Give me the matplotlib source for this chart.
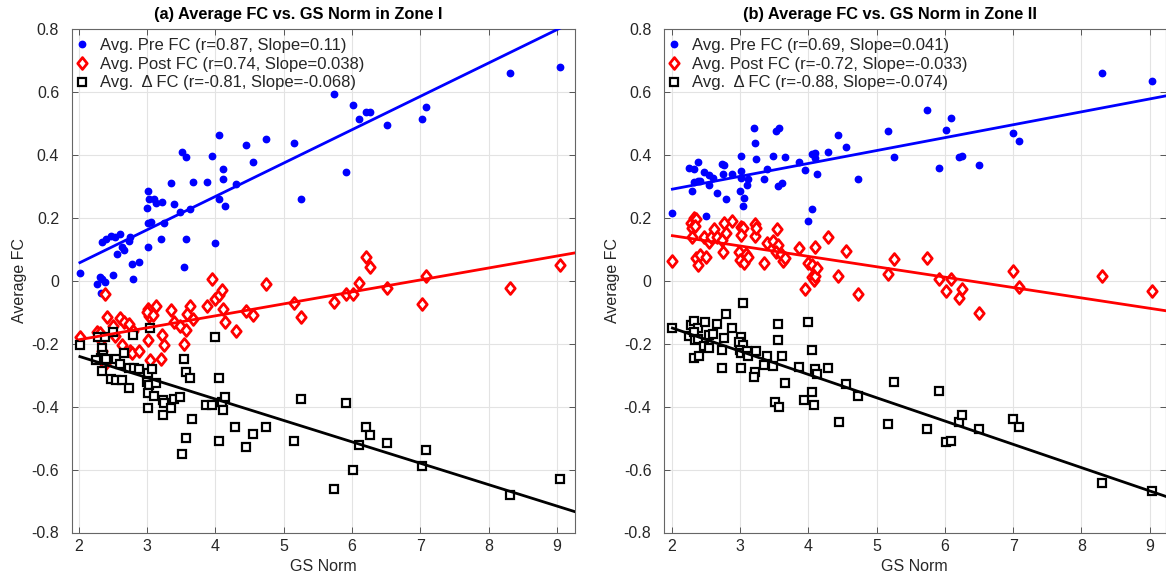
import matplotlib
matplotlib.use("Agg")
import matplotlib.pyplot as plt
from matplotlib.path import Path
import numpy as np

plt.rcParams['font.family'] = ['Liberation Sans', 'DejaVu Sans']
plt.rcParams['axes.unicode_minus'] = False

# ---- Zone I ----
a_pre_x = [2.02, 2.27, 2.31, 2.34, 2.35, 2.38, 2.33, 2.40, 2.47, 2.53, 2.60, 2.63, 2.67, 2.56,
           2.50, 2.74, 2.76, 2.78, 2.80, 2.89, 3.01, 3.03, 3.00, 3.10, 3.13, 3.02, 3.06, 3.02,
           3.22, 3.25, 3.21, 3.35, 3.40, 3.49, 3.57, 3.55, 3.63, 3.67, 3.88, 3.99, 4.06, 4.11,
           4.11, 4.14, 4.30, 4.55, 3.52, 3.57, 3.96, 4.06, 4.45, 4.74, 5.16, 5.26, 5.74, 5.92,
           6.02, 6.10, 6.21, 6.27, 6.52, 7.02, 7.09, 8.31, 9.04]
a_pre_y = [0.025, -0.011, 0.011, 0.004, 0.124, -0.004, -0.038, 0.131, 0.142, 0.137, 0.148, 0.106,
           0.097, 0.084, 0.018, 0.126, 0.137, 0.052, 0.005, 0.060, 0.286, 0.258, 0.232, 0.258,
           0.245, 0.182, 0.187, 0.108, 0.249, 0.182, 0.133, 0.309, 0.242, 0.219, 0.132, 0.042,
           0.227, 0.313, 0.312, 0.119, 0.259, 0.322, 0.354, 0.238, 0.306, 0.378, 0.409, 0.392,
           0.397, 0.463, 0.431, 0.450, 0.436, 0.259, 0.593, 0.345, 0.559, 0.513, 0.537, 0.534,
           0.493, 0.512, 0.552, 0.658, 0.679]

a_post_x = [2.02, 2.27, 2.31, 2.34, 2.35, 2.38, 2.33, 2.38, 2.41, 2.50, 2.53, 2.60, 2.63, 2.67,
            2.74, 2.75, 2.78, 2.80, 2.89, 3.01, 3.03, 3.00, 3.09, 3.13, 3.01, 3.05, 3.22, 3.25,
            3.21, 3.35, 3.40, 3.49, 3.57, 3.55, 3.63, 3.67, 3.58, 3.88, 3.96, 3.99, 4.06, 4.10,
            4.11, 4.14, 4.31, 4.45, 4.55, 4.74, 5.16, 5.26, 5.74, 5.92, 6.02, 6.10, 6.21, 6.26,
            6.52, 7.02, 7.09, 8.31, 9.04]
a_post_y = [-0.178, -0.164, -0.167, -0.225, -0.245, -0.265, -0.190, -0.044, -0.116, -0.144,
            -0.175, -0.119, -0.204, -0.130, -0.139, -0.222, -0.231, -0.160, -0.222, -0.089,
            -0.114, -0.100, -0.109, -0.081, -0.190, -0.251, -0.172, -0.204, -0.249, -0.093,
            -0.133, -0.143, -0.157, -0.202, -0.080, -0.123, -0.107, -0.080, 0.006, -0.059,
            -0.045, -0.030, -0.091, -0.131, -0.159, -0.095, -0.109, -0.012, -0.072, -0.115,
            -0.067, -0.044, -0.044, -0.008, 0.074, 0.043, -0.023, -0.074, 0.016, -0.023, 0.051]

a_delta_x = [2.02, 2.29, 2.39, 2.50, 2.80, 3.05, 3.99, 2.34, 2.36, 2.33, 2.26, 2.40, 2.35, 2.55,
             2.60, 2.67, 2.47, 2.55, 2.63, 2.74, 2.74, 2.81, 2.89, 3.01, 3.07, 3.00, 3.03, 3.14,
             3.01, 3.11, 3.01, 3.23, 3.25, 3.36, 3.39, 3.49, 3.55, 3.57, 3.63, 3.87, 3.96, 4.06,
             4.10, 4.14, 4.11, 3.66, 3.23, 3.57, 3.52, 4.06, 4.29, 4.45, 4.55, 4.74, 5.16, 5.26,
             5.74, 5.92, 6.02, 6.10, 6.21, 6.26, 6.52, 7.02, 7.09, 8.31, 9.04]
a_delta_y = [-0.204, -0.178, -0.178, -0.164, -0.172, -0.151, -0.178, -0.215, -0.235, -0.245,
             -0.252, -0.250, -0.286, -0.250, -0.265, -0.229, -0.312, -0.315, -0.315, -0.342,
             -0.278, -0.278, -0.281, -0.294, -0.281, -0.321, -0.331, -0.324, -0.358, -0.368,
             -0.404, -0.379, -0.390, -0.404, -0.377, -0.370, -0.249, -0.289, -0.310, -0.396,
             -0.394, -0.310, -0.387, -0.370, -0.410, -0.440, -0.426, -0.500, -0.552, -0.508,
             -0.466, -0.529, -0.487, -0.464, -0.510, -0.376, -0.661, -0.389, -0.601, -0.523,
             -0.464, -0.491, -0.516, -0.588, -0.537, -0.681, -0.630]

# ---- Zone II ----
b_pre_x = [2.01, 2.29, 2.26, 2.33, 2.38, 2.33, 2.38, 2.41, 2.48, 2.54, 2.55, 2.61, 2.50, 2.66,
           2.74, 2.77, 2.75, 2.79, 2.88, 3.01, 3.01, 3.02, 3.00, 3.06, 3.04, 3.10, 3.12, 3.21,
           3.22, 3.24, 3.35, 3.39, 3.48, 3.52, 3.57, 3.55, 3.62, 3.66, 3.87, 3.95, 3.99, 4.06,
           4.06, 4.10, 4.10, 4.13, 4.29, 4.44, 4.55, 4.73, 5.16, 5.26, 5.74, 5.91, 6.02, 6.09,
           6.20, 6.25, 6.50, 7.00, 7.08, 8.30, 9.03]
b_pre_y = [0.214, 0.283, 0.359, 0.354, 0.378, 0.314, 0.316, 0.317, 0.346, 0.335, 0.304, 0.327,
           0.206, 0.279, 0.369, 0.366, 0.339, 0.258, 0.340, 0.396, 0.349, 0.327, 0.286, 0.263,
           0.238, 0.304, 0.324, 0.484, 0.436, 0.385, 0.322, 0.354, 0.396, 0.476, 0.486, 0.301,
           0.309, 0.394, 0.376, 0.351, 0.190, 0.226, 0.402, 0.406, 0.388, 0.339, 0.410, 0.462,
           0.425, 0.322, 0.476, 0.392, 0.542, 0.359, 0.478, 0.515, 0.392, 0.396, 0.366, 0.468,
           0.443, 0.658, 0.635]

b_post_x = [2.01, 2.28, 2.32, 2.36, 2.29, 2.34, 2.29, 2.36, 2.38, 2.41, 2.50, 2.48, 2.54, 2.58,
            2.62, 2.66, 2.74, 2.77, 2.79, 2.75, 2.88, 2.99, 3.01, 3.04, 3.01, 3.00, 3.06, 3.09,
            3.12, 3.22, 3.22, 3.24, 3.35, 3.39, 3.48, 3.54, 3.56, 3.52, 3.60, 3.63, 3.66, 3.87,
            3.95, 3.99, 4.06, 4.10, 4.06, 4.08, 4.10, 4.13, 4.29, 4.44, 4.55, 4.73, 5.16, 5.26,
            5.74, 5.91, 6.02, 6.09, 6.20, 6.25, 6.50, 7.00, 7.08, 8.30, 9.03]
b_post_y = [0.063, 0.182, 0.198, 0.195, 0.166, 0.174, 0.140, 0.071, 0.050, 0.081, 0.076, 0.140,
            0.124, 0.138, 0.163, 0.140, 0.129, 0.184, 0.152, 0.092, 0.190, 0.092, 0.171, 0.166,
            0.145, 0.066, 0.055, 0.085, 0.076, 0.179, 0.143, 0.166, 0.055, 0.119, 0.127, 0.163,
            0.113, 0.092, 0.085, 0.063, 0.071, 0.103, -0.028, 0.057, 0.050, 0.108, 0.011, 0.002,
            0.015, 0.039, 0.137, 0.016, 0.094, -0.043, 0.021, 0.069, 0.071, 0.006, -0.032, 0.006,
            -0.056, -0.027, -0.104, 0.031, -0.021, 0.016, -0.032]

b_delta_x = [2.01, 2.28, 2.33, 2.38, 2.26, 2.32, 2.34, 2.38, 2.33, 2.40, 2.49, 2.48, 2.54, 2.55,
             2.61, 2.66, 2.77, 2.74, 2.79, 2.74, 2.88, 3.01, 2.99, 3.04, 3.00, 3.02, 3.10, 3.12,
             3.01, 3.04, 3.22, 3.20, 3.24, 3.35, 3.39, 3.48, 3.55, 3.56, 3.62, 3.66, 3.51, 3.57,
             3.87, 3.99, 4.06, 4.10, 4.13, 4.06, 3.94, 4.09, 4.29, 4.45, 4.55, 4.73, 5.16, 5.26,
             5.74, 5.91, 6.02, 6.09, 6.20, 6.25, 6.50, 7.00, 7.08, 8.30, 9.03]
b_delta_y = [-0.151, -0.141, -0.128, -0.151, -0.176, -0.164, -0.188, -0.186, -0.247, -0.239,
             -0.132, -0.207, -0.215, -0.172, -0.169, -0.139, -0.181, -0.220, -0.106, -0.278,
             -0.149, -0.180, -0.194, -0.204, -0.220, -0.230, -0.222, -0.239, -0.278, -0.072,
             -0.289, -0.307, -0.222, -0.268, -0.238, -0.270, -0.139, -0.188, -0.241, -0.326,
             -0.387, -0.401, -0.275, -0.133, -0.220, -0.280, -0.296, -0.354, -0.379, -0.396,
             -0.276, -0.450, -0.329, -0.368, -0.455, -0.323, -0.471, -0.352, -0.511, -0.508,
             -0.448, -0.426, -0.471, -0.440, -0.464, -0.643, -0.668]

# fitted lines: value at x=2 and slope (pre, post, delta)
a_fit_y2 = [0.055, -0.188, -0.240]
a_fit_slope = [0.106, 0.038, -0.068]
b_fit_y2 = [0.290, 0.143, -0.150]
b_fit_slope = [0.041, -0.033, -0.074]

a_labels = ['Avg. Pre FC (r=0.87, Slope=0.11)',
            'Avg. Post FC (r=0.74, Slope=0.038)',
            'Avg.  \u0394 FC (r=-0.81, Slope=-0.068)']
b_labels = ['Avg. Pre FC (r=0.69, Slope=0.041)',
            'Avg. Post FC (r=-0.72, Slope=-0.033)',
            'Avg.  \u0394 FC (r=-0.88, Slope=-0.074)']

W, H = 1166, 578

# matlab-style diamond, a bit taller than wide
diamond = Path([(0, -1.25), (1, 0), (0, 1.25), (-1, 0), (0, -1.25)],
               [Path.MOVETO, Path.LINETO, Path.LINETO, Path.LINETO, Path.CLOSEPOLY])


def plot_panel(ax, title, xs, ys, fit_y2, fit_slope, labels, xlim):
    # points
    ax.plot(xs[0], ys[0], 'o', color='#0000ff', ms=4.6, mec='#0000ff',
            ls='none', label=labels[0], zorder=3)
    ax.plot(xs[1], ys[1], marker=diamond, color='#ff0000', ms=8.5, mfc='white', mew=2.0,
            ls='none', label=labels[1], zorder=3)
    ax.plot(xs[2], ys[2], 's', color='black', ms=5.8, mfc='white', mew=1.6,
            ls='none', label=labels[2], zorder=3)
    # fit lines
    lx = np.array([min(xs[0]), xlim[1]])
    for c, y2, m in zip(['#0000ff', '#ff0000', 'black'], fit_y2, fit_slope):
        ax.plot(lx, y2 + m * (lx - 2), color=c, lw=2.0, zorder=4)

    ax.set_xlim(xlim)
    ax.set_ylim(-0.8, 0.8)
    ax.set_xticks(range(2, 10))
    ax.set_yticks(np.round(np.arange(-0.8, 0.81, 0.2), 1))
    ax.set_yticklabels(['-0.8', '-0.6', '-0.4', '-0.2', '0', '0.2', '0.4', '0.6', '0.8'])
    ax.grid(True, color='#e3e3e3', lw=0.8)
    ax.set_axisbelow(True)
    ax.tick_params(direction='in', top=True, right=True, length=4, width=0.7,
                   colors='#555555', labelcolor='#262626', labelsize=11.5)
    ax.tick_params(axis='y', pad=9)
    ax.tick_params(axis='x', pad=5)
    for s in ax.spines.values():
        s.set_color('#666666')
        s.set_linewidth(0.8)
    ax.set_xlabel('GS Norm', fontsize=11.5, color='#262626', labelpad=3)
    ax.set_ylabel('Average FC', fontsize=11.5, color='#262626', labelpad=3)
    ax.set_title(title, fontsize=11.8, fontweight='bold', x=0.45, pad=7, color='black')
    leg = ax.legend(loc='upper left', bbox_to_anchor=(0.0, 0.988), frameon=False,
                    fontsize=12, handlelength=0.8, handletextpad=0.7,
                    borderaxespad=0.0, labelspacing=0.22, borderpad=0.2)
    for t in leg.get_texts():
        t.set_color('#262626')


fig = plt.figure(figsize=(W / 100, H / 100), dpi=100)
ax1 = fig.add_axes([71.7 / W, 1 - 532.5 / H, 503 / W, 503.8 / H])
ax2 = fig.add_axes([664 / W, 1 - 532.5 / H, 501.5 / W, 503.8 / H])

plot_panel(ax1, '(a) Average FC vs. GS Norm in Zone I',
           [a_pre_x, a_post_x, a_delta_x], [a_pre_y, a_post_y, a_delta_y],
           a_fit_y2, a_fit_slope, a_labels, (1.9, 9.26))
plot_panel(ax2, '(b) Average FC vs. GS Norm in Zone II',
           [b_pre_x, b_post_x, b_delta_x], [b_pre_y, b_post_y, b_delta_y],
           b_fit_y2, b_fit_slope, b_labels, (1.887, 9.23))

plt.savefig('out.png', dpi=100)
